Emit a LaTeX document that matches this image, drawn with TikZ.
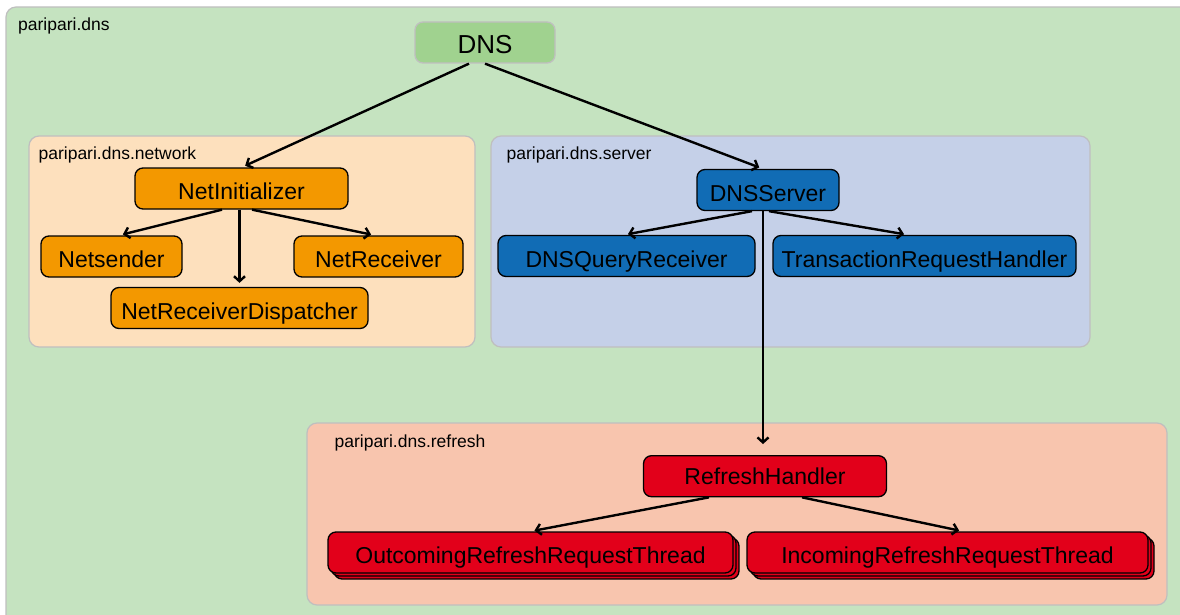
\documentclass[tikz,border=0pt]{standalone}
\usepackage{fontspec}
\setmainfont{Liberation Sans}
\usetikzlibrary{arrows.meta,calc,fit,shadows}
\definecolor{dnsbg}{RGB}{197,227,192}
\definecolor{dnsnode}{RGB}{160,210,143}
\definecolor{netbg}{RGB}{253,224,189}
\definecolor{netnode}{RGB}{243,152,0}
\definecolor{srvbg}{RGB}{197,208,232}
\definecolor{srvnode}{RGB}{17,108,181}
\definecolor{refbg}{RGB}{248,197,174}
\definecolor{refnode}{RGB}{226,0,26}
\tikzset{box/.style={draw, rectangle, rounded corners=8pt, line width=1.3pt, font=\fontsize{23}{27}\selectfont, text height=24pt, text depth=2pt, minimum height=41pt, inner sep=0pt}}
\tikzset{container/.style={draw=black!25, rectangle, rounded corners=10pt, line width=1.2pt, inner sep=0pt}}
\tikzset{pkg/.style={anchor=base west, inner sep=0pt, font=\fontsize{17.5}{21}\selectfont}}
\tikzset{stack/.style={double copy shadow={shadow xshift=3pt, shadow yshift=-3pt}}}
\tikzset{line/.style={draw, line width=2.4pt, -{Straight Barb[length=5pt,width=11pt]}, shorten >=4pt}}

\begin{document}
\begin{tikzpicture}[x=1pt, y=-1pt]
    \useasboundingbox (0,0) rectangle (1180,615);

    % packages
    \node[container, fill=dnsbg, fit={(6,7) (1192,628)}] (dnspkg) {};
    \node[pkg] at (18,31) {paripari.dns};
    \node[container, fill=netbg, fit={(29,136) (475,347)}] (network) {};
    \node[pkg] at ($(network.north west)+(10,24)$) {paripari.dns.network};
    \node[container, fill=srvbg, fit={(491,136) (1090,347)}] (server) {};
    \node[pkg] at ($(server.north west)+(16,24)$) {paripari.dns.server};
    \node[container, fill=refbg, fit={(307,423) (1167,605)}] (refresh) {};
    \node[pkg] at ($(refresh.north west)+(28,25)$) {paripari.dns.refresh};

    % classes
    \node[box, draw=black!25, fill=dnsnode, minimum width=140pt, font=\fontsize{26}{30}\selectfont] (dns) at (485,42.5) {DNS};

    \node[box, fill=netnode, minimum width=213pt] (netinit) at (241.5,188.5) {NetInitializer};
    \node[box, fill=netnode, minimum width=141pt] (netsender) at (111.5,256.5) {Netsender};
    \node[box, fill=netnode, minimum width=169pt] (netreceiver) at (378.5,256.5) {NetReceiver};
    \node[box, fill=netnode, minimum width=257pt] (netdispatcher) at (239.5,308) {NetReceiverDispatcher};

    \node[box, fill=srvnode, minimum width=142pt] (dnsserver) at (768,190) {DNSServer};
    \node[box, fill=srvnode, minimum width=257pt] (queryreceiver) at (626.5,256) {DNSQueryReceiver};
    \node[box, fill=srvnode, minimum width=303pt] (transhandler) at (924.5,256) {TransactionRequestHandler};

    \node[box, fill=refnode, minimum width=243pt, text height=20pt, text depth=4pt] (refreshhandler) at (765,476.2) {RefreshHandler};
    \node[box, stack, fill=refnode, minimum width=405pt] (outthread) at (530.5,552.5) {OutcomingRefreshRequestThread};
    \node[box, stack, fill=refnode, minimum width=401pt] (inthread) at (947.5,552.5) {IncomingRefreshRequestThread};

    % dependencies
    \path [line] ([xshift=-16pt]dns.south) -- (netinit.north);
    \path [line] (dns.south) -- ([xshift=-5pt]dnsserver.north);

    \path [line] ([xshift=-19.5pt]netinit.south) -- ([xshift=7.5pt]netsender.north);
    \path [line] (netinit.south -| netdispatcher.north) -- (netdispatcher.north);
    \path [line] ([xshift=10.5pt]netinit.south) -- ([xshift=-3.5pt]netreceiver.north);

    \path [line] ([xshift=-16pt]dnsserver.south) -- ([xshift=-2.5pt]queryreceiver.north);
    \path [line] ([xshift=1pt]dnsserver.south) -- ([xshift=-16.5pt]transhandler.north);
    \path [line] ([xshift=-5pt]dnsserver.south) -- ([xshift=-2pt,yshift=7pt]refreshhandler.north);

    \path [line] ([xshift=-56pt]refreshhandler.south) -- (outthread.north);
    \path [line] ([xshift=37pt]refreshhandler.south) -- ([xshift=15.5pt]inthread.north);
\end{tikzpicture}
\end{document}
